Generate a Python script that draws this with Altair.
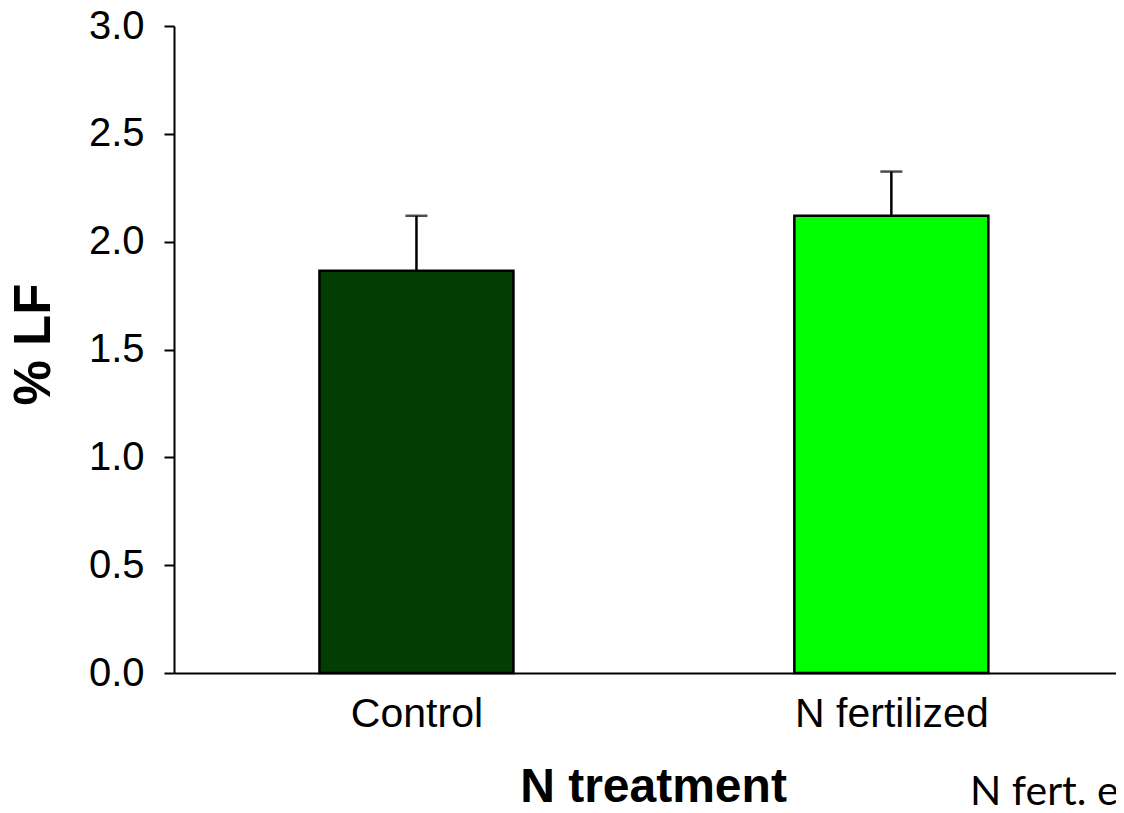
import altair as alt
import pandas as pd

categories = ["Control", "N fertilized"]
positions = [0, 1]
means = [1.865, 2.12]
upper = [2.12, 2.325]
colors = ["#033d04", "#00ff00"]

df = pd.DataFrame({"pos": positions, "treatment": categories, "mean": means,
                   "upper": upper, "color": colors})

label_expr = " : ".join(
    [f"datum.value == {p} ? '{c}'" for p, c in zip(positions[:-1], categories[:-1])]
    + [f"'{categories[-1]}'"]
)

x_scale = alt.Scale(domain=[-0.5, 1.4625], nice=False, zero=False)

x_enc = alt.X(
    "pos:Q",
    scale=x_scale,
    axis=alt.Axis(
        title="N treatment",
        values=positions,
        labelExpr=label_expr,
        labelAngle=0,
        labelLimit=0,
        ticks=False,
        grid=False,
        labelFont="Liberation Sans",
        labelFontSize=41,
        labelColor="black",
        labelPadding=21,
        titleFont="Liberation Sans",
        titleFontSize=48,
        titleFontWeight="bold",
        titleColor="black",
        titlePadding=29,
        titleX=479,
        domainColor="black",
        domainWidth=2,
    ),
)

y_scale = alt.Scale(domain=[0, 3], nice=False)
y_axis = alt.Axis(
    title="% LF",
    values=[0, 0.5, 1.0, 1.5, 2.0, 2.5, 3.0],
    format=".1f",
    grid=False,
    tickSize=10,
    tickWidth=2,
    tickColor="black",
    domainColor="black",
    domainWidth=2,
    labelFont="Liberation Sans",
    labelFontSize=40,
    labelColor="black",
    labelPadding=20,
    titleFont="Liberation Sans",
    titleFontSize=51,
    titleFontWeight="bold",
    titleColor="black",
    titlePadding=28,
    titleY=318,
)

base = alt.Chart(df)

bars = base.mark_bar(size=194, stroke="black", strokeWidth=2.5).encode(
    x=x_enc,
    y=alt.Y("mean:Q", scale=y_scale, axis=y_axis),
    color=alt.Color("color:N", scale=None),
)

err = base.mark_rule(color="black", strokeWidth=2.5).encode(
    x=alt.X("pos:Q", scale=x_scale),
    y=alt.Y("mean:Q", scale=y_scale),
    y2="upper:Q",
)

cap = base.mark_tick(color="black", size=22, thickness=2.5, orient="horizontal").encode(
    x=alt.X("pos:Q", scale=x_scale),
    y=alt.Y("upper:Q", scale=y_scale),
)

note = alt.Chart(pd.DataFrame({"t": ["N fert. e"]})).mark_text(
    font="Lato", fontSize=41, align="left", baseline="alphabetic", color="black"
).encode(x=alt.value(796), y=alt.value(779), text="t:N")

chart = (
    alt.layer(bars, err, cap, note)
    .properties(
        width=942,
        height=647,
        padding={"left": 166, "top": 18, "right": 0, "bottom": 132},
        autosize=alt.AutoSizeParams(type="none"),
        background="white",
    )
    .configure_view(stroke=None)
)

chart.save("out.html", embed_options={"renderer": "svg", "actions": False})
